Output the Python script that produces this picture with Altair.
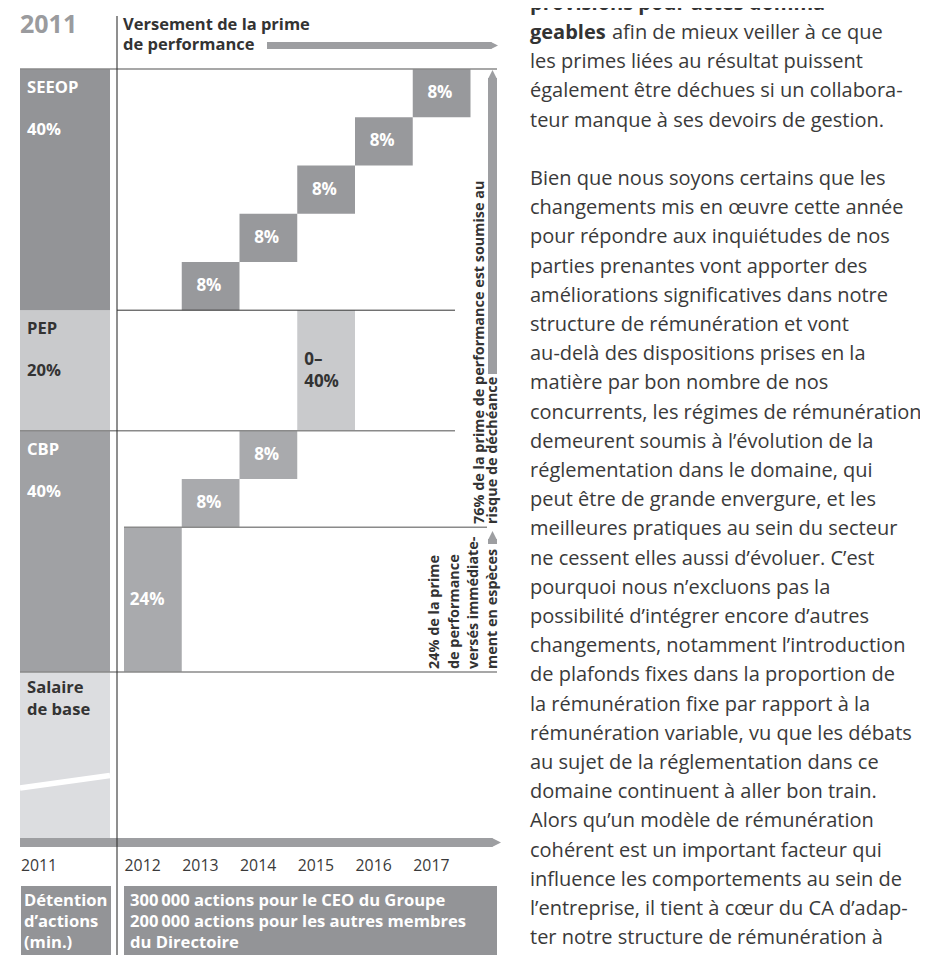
import altair as alt
import pandas as pd

W, H = 912, 947
PAGE = 8
FONT = "Open Sans"

# ---------------- data ----------------
components = ["CBP", "PEP", "SEEOP"]          # stacked bottom-up
component_share = [40, 20, 40]
component_labels = ["40%", "20%", "40%"]
years = [2011, 2012, 2013, 2014, 2015, 2016, 2017]
seeop_years = [2013, 2014, 2015, 2016, 2017]
seeop_share = [8, 8, 8, 8, 8]
cbp_years = [2012, 2013, 2014]
cbp_share = [24, 8, 8]
pep_year = 2015
pep_label = ["0–", "40%"]
header_lines = ["Versement de la prime", "de performance"]
deferred_lines = ["76% de la prime de performance est soumise au", "risque de déchéance"]
cash_lines = ["24% de la prime", "de performance", "versés immédiate-", "ment en espèces"]
holding_title = ["Détention", "d’actions", "(min.)"]
holding_lines = ["300\u2009000 actions pour le CEO du Groupe",
                 "200\u2009000 actions pour les autres membres",
                 "du Directoire"]
salary_lines = ["Salaire", "de base"]
body_lines = [
    "provisions pour actes domma-",
    "geables",
    "les primes liées au résultat puissent",
    "également être déchues si un collabora-",
    "teur manque à ses devoirs de gestion.",
    "",
    "Bien que nous soyons certains que les",
    "changements mis en œuvre cette année",
    "pour répondre aux inquiétudes de nos",
    "parties prenantes vont apporter des",
    "améliorations significatives dans notre",
    "structure de rémunération et vont",
    "au-delà des dispositions prises en la",
    "matière par bon nombre de nos",
    "concurrents, les régimes de rémunération",
    "demeurent soumis à l’évolution de la",
    "réglementation dans le domaine, qui",
    "peut être de grande envergure, et les",
    "meilleures pratiques au sein du secteur",
    "ne cessent elles aussi d’évoluer. C’est",
    "pourquoi nous n’excluons pas la",
    "possibilité d’intégrer encore d’autres",
    "changements, notamment l’introduction",
    "de plafonds fixes dans la proportion de",
    "la rémunération fixe par rapport à la",
    "rémunération variable, vu que les débats",
    "au sujet de la réglementation dans ce",
    "domaine continuent à aller bon train.",
    "Alors qu’un modèle de rémunération",
    "cohérent est un important facteur qui",
    "influence les comportements au sein de",
    "l’entreprise, il tient à cœur du CA d’adap-",
    "ter notre structure de rémunération à",
]
body_bold_lines = [0, 1]
body_line1_rest = "afin de mieux veiller à ce que"

# ---------------- layout (year units on x, percent units on y) ----------------
COL_PX, COL_W = 124.0, 57.75      # where 2012 starts, width of one year
ZERO_PY, PCT_PX = 672.0, 6.03     # where 0 % sits, pixels per percent


def xv(px):
    return 2012 + (px - COL_PX) / COL_W


def yv(py):
    return (ZERO_PY - py) / PCT_PX


xs = alt.Scale(domain=[xv(PAGE), xv(PAGE + W)], range=[0, W], nice=False, zero=False)
ys = alt.Scale(domain=[yv(PAGE + H), yv(PAGE)], range=[H, 0], nice=False, zero=False)

LEFT = (xv(20), xv(110))
DARK, MID, LIGHT, PALE = "#939497", "#a0a1a4", "#c9cacc", "#dcdde0"
STEP_S, STEP_C = "#98999c", "#a9aaad"
TXT = "#333333"
ARROW = "#9d9ea1"
LINE = "#8a8a8a"

rects = []
base = 0
comp_bounds = {}
comp_fill = {"CBP": MID, "PEP": LIGHT, "SEEOP": DARK}
for c, s in zip(components, component_share):
    comp_bounds[c] = (base, base + s)
    rects.append(dict(x=LEFT[0], x2=LEFT[1], y=base, y2=base + s, fill=comp_fill[c]))
    base += s
rects.append(dict(x=LEFT[0], x2=LEFT[1], y=yv(838), y2=0, fill=PALE))

seeop_boxes = []
b = comp_bounds["SEEOP"][0]
for yr, s in zip(seeop_years, seeop_share):
    rects.append(dict(x=yr, x2=yr + 1, y=b, y2=b + s, fill=STEP_S))
    seeop_boxes.append((yr, b, s))
    b += s
cbp_boxes = []
b = comp_bounds["CBP"][0]
for yr, s in zip(cbp_years, cbp_share):
    rects.append(dict(x=yr, x2=yr + 1, y=b, y2=b + s, fill=STEP_C))
    cbp_boxes.append((yr, b, s))
    b += s
p0, p1 = comp_bounds["PEP"]
rects.append(dict(x=pep_year, x2=pep_year + 1, y=p0, y2=p1, fill=LIGHT))
# shareholding boxes
rects.append(dict(x=xv(21), x2=xv(111), y=yv(886), y2=yv(PAGE + H), fill=DARK))
rects.append(dict(x=xv(124), x2=xv(497), y=yv(886), y2=yv(PAGE + H), fill=DARK))
rect_df = pd.DataFrame(rects)

top = comp_bounds["SEEOP"][1]
rules = [
    dict(x=xv(20), x2=xv(497), y=top, y2=top, c=LINE, w=1.6),
    dict(x=xv(117), x2=xv(455), y=p1, y2=p1, c=TXT, w=1.0),
    dict(x=xv(20), x2=xv(455), y=p0, y2=p0, c=LINE, w=1.6),
    dict(x=2012, x2=xv(487), y=cbp_share[0], y2=cbp_share[0], c=LINE, w=1.6),
    dict(x=xv(20), x2=xv(497), y=0, y2=0, c=LINE, w=1.6),
    # arrows (bars)
    dict(x=xv(267), x2=xv(491.5), y=yv(45.5), y2=yv(45.5), c=ARROW, w=7),
    dict(x=xv(20), x2=xv(492.5), y=yv(842.5), y2=yv(842.5), c=ARROW, w=9),
    dict(x=xv(492.5), x2=xv(492.5), y=yv(78), y2=yv(374), c=ARROW, w=9),
    dict(x=xv(492.5), x2=xv(492.5), y=yv(539), y2=yv(544), c=ARROW, w=9),
    # break mark in base salary
    dict(x=xv(20), x2=xv(110), y=yv(788), y2=yv(775.5), c="#ffffff", w=5.5),
    # year divider
    dict(x=xv(117), x2=xv(117), y=yv(16), y2=yv(PAGE + H), c=TXT, w=1.1),
]
rule_df = pd.DataFrame(rules)

RIGHT = "M-1,-1L1,0L-1,1Z"
UP = "M-1,1L0,-1L1,1Z"
heads = pd.DataFrame([
    dict(x=xv(494.5), y=yv(45.5), shape=RIGHT, size=49),
    dict(x=xv(496.5), y=yv(842.5), shape=RIGHT, size=81),
    dict(x=xv(492.5), y=yv(74.5), shape=UP, size=81),
    dict(x=xv(492.5), y=yv(535.5), shape=UP, size=81),
])


def enc_xy():
    return dict(x=alt.X("x:Q", scale=xs, axis=None), y=alt.Y("y:Q", scale=ys, axis=None))


def text_layer(rows, size, weight="bold", color=TXT, align="left", baseline="alphabetic", angle=0, font=FONT):
    df = pd.DataFrame(rows)
    kw = dict(align=align, baseline=baseline, font=font, fontSize=size, fontWeight=weight, color=color)
    if angle:
        kw["angle"] = angle
    return alt.Chart(df).mark_text(**kw).encode(text="t:N", **enc_xy())


layers = []
layers.append(alt.Chart(rect_df).mark_rect().encode(
    x=alt.X("x:Q", scale=xs, axis=None), x2="x2:Q",
    y=alt.Y("y:Q", scale=ys, axis=None), y2="y2:Q",
    color=alt.Color("fill:N", scale=None)))
layers.append(alt.Chart(rule_df).mark_rule(strokeCap="butt").encode(
    x=alt.X("x:Q", scale=xs, axis=None), x2="x2:Q",
    y=alt.Y("y:Q", scale=ys, axis=None), y2="y2:Q",
    color=alt.Color("c:N", scale=None),
    strokeWidth=alt.StrokeWidth("w:Q", scale=None)))
layers.append(alt.Chart(heads).mark_point(filled=True, opacity=1, color=ARROW, strokeWidth=0).encode(
    shape=alt.Shape("shape:N", scale=None), size=alt.Size("size:Q", scale=None), **enc_xy()))

# title year
layers.append(text_layer([dict(t=str(years[0]), x=xv(20), y=yv(33))], 25, color="#9a9b9e"))
# header
layers.append(text_layer([dict(t=t, x=xv(123), y=yv(30 + 20 * i)) for i, t in enumerate(header_lines)], 16.5))

# left column labels
white_rows, dark_rows = [], []
for c, lab in zip(components, component_labels):
    y_top = comp_bounds[c][1]
    py_top = ZERO_PY - y_top * PCT_PX
    rows = [dict(t=c, x=xv(27), y=yv(py_top + 24)), dict(t=lab, x=xv(27), y=yv(py_top + 66))]
    (dark_rows if c == "PEP" else white_rows).extend(rows)
for i, t in enumerate(salary_lines):
    dark_rows.append(dict(t=t, x=xv(27), y=yv(693 + 22 * i)))
layers.append(text_layer(white_rows, 16.6, color="#ffffff"))
layers.append(text_layer(dark_rows, 16.6))

# step labels
step_rows = [dict(t=f"{s}%", x=yr + 0.47, y=b0 + s / 2) for yr, b0, s in seeop_boxes]
step_rows += [dict(t=f"{s}%", x=yr + 0.47, y=b0 + s / 2) for yr, b0, s in cbp_boxes[1:]]
layers.append(text_layer(step_rows, 17, color="#ffffff", align="center", baseline="middle"))
yr, b0, s = cbp_boxes[0]
layers.append(text_layer([dict(t=f"{s}%", x=yr + 0.1, y=b0 + s / 2)], 17, color="#ffffff", baseline="middle"))
layers.append(text_layer([dict(t=t, x=pep_year + 0.12, y=yv(365 + 22 * i)) for i, t in enumerate(pep_label)], 17))

# rotated notes
rot = [dict(t=t, x=xv(px), y=yv(524)) for t, px in zip(deferred_lines, [484, 497])]
rot += [dict(t=t, x=xv(px), y=yv(669)) for t, px in zip(cash_lines, [439, 459, 478, 497])]
layers.append(text_layer(rot, 14.4, angle=270))

# years axis labels
yl = [dict(t=str(years[0]), x=xv(21), y=yv(871))]
yl += [dict(t=str(y), x=y + 0.01, y=yv(871)) for y in years[1:]]
layers.append(text_layer(yl, 15.8, weight=400, color="#3a3a3a"))

# shareholding
layers.append(text_layer([dict(t=t, x=xv(24), y=yv(906 + 21 * i)) for i, t in enumerate(holding_title)], 16.6, color="#ffffff"))
layers.append(text_layer([dict(t=t, x=xv(130), y=yv(906 + 21 * i)) for i, t in enumerate(holding_lines)], 16.6, color="#ffffff"))

# body text
BODY_X, BODY_Y0, BODY_LH = 530, 9.8, 29.2
bold_rows, reg_rows = [], []
for i, t in enumerate(body_lines):
    if not t:
        continue
    row = dict(t=t, x=xv(BODY_X), y=yv(BODY_Y0 + BODY_LH * i))
    (bold_rows if i in body_bold_lines else reg_rows).append(row)
reg_rows.append(dict(t=body_line1_rest, x=xv(612), y=yv(BODY_Y0 + BODY_LH)))
layers.append(text_layer(bold_rows, 20))
layers.append(text_layer(reg_rows, 20, weight=400, color="#3a3a3a"))

chart = alt.layer(*layers).properties(
    width=W, height=H, padding=0, autosize=alt.AutoSizeParams(type="none")
).configure_view(stroke=None)

chart.save("out.html", embed_options={"renderer": "svg", "actions": False})
